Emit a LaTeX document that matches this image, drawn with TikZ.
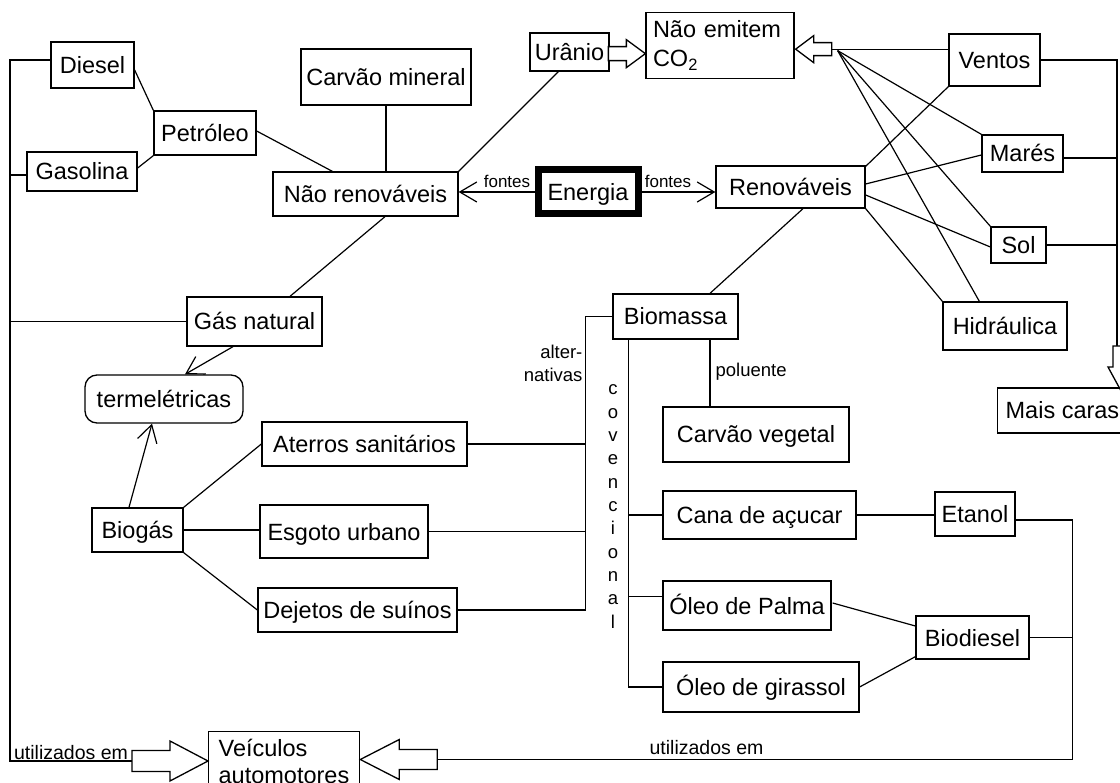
\documentclass[tikz,border=0pt]{standalone}
\usepackage{fontspec}
\setmainfont{Liberation Sans}
\usetikzlibrary{arrows.meta,calc}
\newcommand\blockarrow[6]{\draw[blk,shift={(#1)},rotate=#2] (0,0) -- (-#3,-#4) -- (-#3,-#6) -- ({-#3-#5},-#6) -- ({-#3-#5},#6) -- (-#3,#6) -- (-#3,#4) -- cycle;}
\begin{document}
\begin{tikzpicture}[x=1pt,y=-1pt,line width=1.2pt,
  box/.style={draw,line width=1.3pt,inner sep=0pt,font=\fontsize{23.5}{28}\selectfont,text height=17pt,text depth=0pt},
  mbox/.style={draw,line width=1.3pt,font=\fontsize{23.5}{28}\selectfont,align=left},
  lbl/.style={inner sep=0pt,font=\fontsize{18.5}{23}\selectfont},
  opn/.style={-{Straight Barb[length=17pt,width=20pt,line width=1.2pt]}},
  blk/.style={draw,line width=1.3pt,fill=white,line join=miter}]
\path[use as bounding box,clip] (0,0) rectangle (1120,783);
\fill[white] (0,0) rectangle (1120,783);

% nodes
\node[box,minimum width=83,minimum height=46] (diesel) at (92.5,65) {Diesel};
\node[box,minimum width=102,minimum height=44] (petro) at (205,133) {Petróleo};
\node[box,minimum width=110,minimum height=39] (gasol) at (82,171.5) {Gasolina};
\node[box,minimum width=170,minimum height=56] (carvm) at (386,77) {Carvão mineral};
\node[box,minimum width=185,minimum height=44] (naor) at (365.5,194) {Não renováveis};
\node[box,minimum width=79,minimum height=38] (urano) at (569.5,52) {Urânio};
\node[mbox,font=\fontsize{23.5}{29}\selectfont,anchor=north,minimum width=148,minimum height=66,text width=134pt,inner xsep=7pt,inner ysep=7pt] (emit) at (720,12) {Não emitem\\CO\textsubscript{2}};
\node[box,line width=7pt,minimum width=100,minimum height=44] (energia) at (588,192) {Energia};
\node[box,minimum width=149,minimum height=42] (renov) at (790.5,187) {Renováveis};
\node[box,minimum width=91,minimum height=52] (ventos) at (994.5,60) {Ventos};
\node[box,minimum width=81,minimum height=37] (mares) at (1022.5,153.5) {Marés};
\node[box,minimum width=55,minimum height=36] (sol) at (1018.5,245) {Sol};
\node[box,minimum width=124,minimum height=48] (hidr) at (1005,326) {Hidráulica};
\node[box,anchor=west,inner xsep=8pt,minimum height=45] (mais) at (997,410.5) {Mais caras};
\node[box,minimum width=135,minimum height=49] (gasnat) at (254.5,321.5) {Gás natural};
\node[box,rounded corners=12pt,minimum width=158,minimum height=48] (termo) at (164,399) {termelétricas};
\node[box,minimum width=91,minimum height=44] (biogas) at (137.5,530) {Biogás};
\node[box,minimum width=205,minimum height=44] (aterros) at (364.5,444) {Aterros sanitários};
\node[box,minimum width=168,minimum height=53] (esgoto) at (344,531.5) {Esgoto urbano};
\node[box,minimum width=199,minimum height=44] (dejetos) at (357.5,610) {Dejetos de suínos};
\node[box,minimum width=125,minimum height=45] (biom) at (675.5,316.5) {Biomassa};
\node[box,minimum width=186,minimum height=55] (carvv) at (756,434.5) {Carvão vegetal};
\node[box,minimum width=193,minimum height=48] (cana) at (759.5,515) {Cana de açucar};
\node[box,minimum width=168,minimum height=49] (palma) at (747,605.5) {Óleo de Palma};
\node[box,minimum width=196,minimum height=50] (gira) at (761,687) {Óleo de girassol};
\node[box,minimum width=80,minimum height=44] (etanol) at (975,514) {Etanol};
\node[box,minimum width=113,minimum height=43] (biod) at (972.5,637.5) {Biodiesel};
\node[mbox,font=\fontsize{23.5}{27}\selectfont,anchor=north west,minimum width=151,text width=131pt,inner xsep=10pt,inner ysep=8pt] (veic) at (208,731) {Veículos\\automotores};

% labels
\node[lbl,font=\fontsize{17}{20}\selectfont] (f1) at (507,181) {fontes};
\node[lbl,font=\fontsize{17}{20}\selectfont] (f2) at (668,181) {fontes};
\node[lbl,anchor=east,align=right] (alt) at (583,363.5) {alter-\\nativas};
\node[lbl,anchor=base west] (pol) at (715,377) {poluente};
\foreach \l [count=\i from 0] in {c,o,v,e,n,c,i,o,n,a,l}
  \node[lbl,anchor=base] (conv\i) at (613,{395+23.3*\i}) {\l};
\node[lbl,font=\fontsize{19.5}{23}\selectfont] (u1) at (71,752.5) {utilizados em};
\node[lbl,font=\fontsize{19.5}{23}\selectfont] (u2) at (706.5,747.5) {utilizados em};

% coordinates
\coordinate (LT) at (10,60);
\coordinate (latip) at ($(veic.north west)+(0,30)$);
\coordinate (ratip) at ($(veic.north east)+(0,28.5)$);
\coordinate (RT) at (1117,60);
\coordinate (dtip) at (1120,389);
\coordinate (ut) at ($(emit.west)+(0,8)$);
\coordinate (et) at ($(emit.east)+(1,3.5)$);
\coordinate (fan) at ($(et)+(42,1.5)$);
\coordinate (A) at ($(biom.west)+(-27,0)$);
\coordinate (C) at ($(biom.south west)+(16,0)$);
\coordinate (P) at ($(biom.south)+(34.5,0)$);
\coordinate (E) at ($(etanol.east)+(57,6)$);
\coordinate (mr) at ($(mares.east)+(0,4.5)$);
\coordinate (pw) at ($(palma.west)+(0,-9)$);

% left trunk
\draw ($(diesel.west)+(0,-5)$) -| (LT |- latip) -- ($(latip)+(-76,0)$);
\draw ($(gasol.west)+(0,3.5)$) -- (10,175);
\draw (gasnat.west) -- (gasnat.west -| LT);

% petroleum etc
\draw ($(diesel.east)+(0,5)$) -- (petro.north west);
\draw ($(gasol.east)+(0,-3.5)$) -- (petro.south west);
\draw ($(petro.east)+(0,-2)$) -- ($(naor.north west)+(60,0)$);
\draw (carvm.south) -- (carvm.south |- naor.north);
\draw ($(urano.south west)+(29,0)$) -- (naor.north east);
\draw ($(naor.south)+(19.5,0)$) -- ($(gasnat.north)+(35.5,0)$);
\draw[opn] ($(gasnat.south)+(-21.5,0)$) -- ($(termo.north)+(21,0)$);
\draw[opn] ($(biogas.north)+(-8.5,0)$) -- ($(termo.south)+(-12,0)$);
\draw (biogas.north east) -- (aterros.west);
\draw (biogas.east) -- (biogas.east -| esgoto.west);
\draw (biogas.south east) -- (dejetos.west);

% energia
\draw[opn] (energia.west) -- (energia.west -| naor.east);
\draw[opn] (energia.east) -- (energia.east -| renov.west);

% top right
\draw ($(et)+(36,0)$) -- (et -| ventos.west);
\draw (fan) -- (mares.north west);
\draw (fan) -- (sol.north west);
\draw (fan) -- ($(hidr.north west)+(37,0)$);
\draw ($(renov.north east)+(0,1)$) -- (ventos.south west);
\draw ($(renov.east)+(0,-3)$) -- ($(mares.west)+(0,1.5)$);
\draw ($(renov.east)+(0,8)$) -- ($(sol.west)+(0,2)$);
\draw (renov.south east) -- (hidr.north west);
\draw ($(renov.south)+(12.5,0)$) -- ($(biom.north)+(34.5,0)$);

% right trunk
\draw (ventos.east) -| ($(dtip)+(-3,-43)$);
\draw (mr) -- (mr -| RT);
\draw (sol.east) -- (sol.east -| RT);

% biomass
\draw (biom.west) -- (A) -- (A |- dejetos.east) -- (dejetos.east);
\draw (aterros.east) -- (aterros.east -| A);
\draw (esgoto.east) -- (esgoto.east -| A);
\draw (C) |- (gira.west);
\draw (cana.west) -- (cana.west -| C);
\draw (pw) -- (pw -| C);
\draw (P) -- (P |- carvv.north);
\draw (cana.east) -- (cana.east -| etanol.west);
\draw ($(palma.east)+(1,-2.5)$) -- ($(biod.west)+(0,-11.5)$);
\draw (gira.east) -- ($(biod.south west)+(0,-3)$);
\draw ($(etanol.east)+(0,6)$) -- (E) -- (E |- ratip) -- ($(ratip)+(77,0)$);
\draw (biod.east) -- (biod.east -| E);

% block arrows
\blockarrow{ut}{0}{19}{14}{18}{7}
\blockarrow{et}{180}{18}{13.5}{18}{6.5}
\blockarrow{dtip}{-90}{22}{12}{21}{7}
\blockarrow{ratip}{180}{39}{20}{38}{10}
\blockarrow{latip}{0}{38}{20}{38}{10.5}
\end{tikzpicture}
\end{document}
